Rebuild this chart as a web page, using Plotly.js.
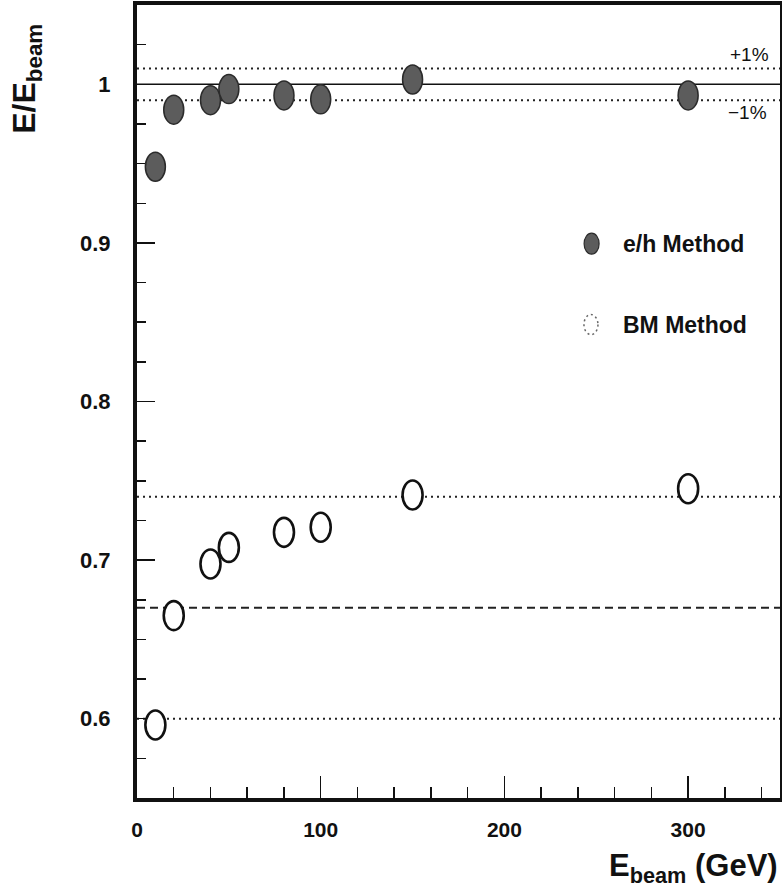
<!DOCTYPE html>
<html>
<head>
<meta charset="utf-8">
<script src="https://cdn.plot.ly/plotly-3.0.1.min.js"></script>
<style>html,body{margin:0;padding:0;background:#fff;}#chart{width:782px;height:894px;}</style>
</head>
<body>
<div id="chart"></div>
<script>
// Beam energies (GeV)
var beamEnergy = [10, 20, 40, 50, 80, 100, 150, 300];
// E/Ebeam, e/h method
var ehValues = [0.948, 0.984, 0.990, 0.997, 0.993, 0.9905, 1.003, 0.993];
// E/Ebeam, BM method
var bmValues = [0.596, 0.665, 0.6975, 0.708, 0.7175, 0.7207, 0.741, 0.745];
// Reference lines
var refSolid = [1.0];
var refDotted = [1.01, 0.99, 0.74, 0.60];
var refDashed = [0.67];
var legendNames = ['e/h Method', 'BM Method'];
var xTickVals = [0, 100, 200, 300];
var yTickVals = [0.6, 0.7, 0.8, 0.9, 1.0];
var yTickText = ['0.6', '0.7', '0.8', '0.9', '1'];

var FONT = '"Liberation Sans", Arial, Helvetica, sans-serif';

var traces = [
  {x: beamEnergy, y: ehValues, type: 'scatter', mode: 'markers', name: legendNames[0],
   marker: {size: 16, color: '#5c5c5c', line: {width: 0}}, showlegend: false},
  {x: beamEnergy, y: bmValues, type: 'scatter', mode: 'markers', name: legendNames[1],
   marker: {size: 14, color: '#ffffff', line: {width: 0}}, showlegend: false}
];

var shapes = [];
refSolid.forEach(function (v) {
  shapes.push({type: 'line', xref: 'paper', yref: 'y', x0: 0, x1: 1, y0: v, y1: v,
    line: {color: '#111', width: 1.6}, layer: 'below'});
});
refDotted.forEach(function (v) {
  shapes.push({type: 'line', xref: 'paper', yref: 'y', x0: 0, x1: 1, y0: v, y1: v,
    line: {color: '#222', width: 2, dash: '2px,4px'}, layer: 'below'});
});
refDashed.forEach(function (v) {
  shapes.push({type: 'line', xref: 'paper', yref: 'y', x0: 0, x1: 1, y0: v, y1: v,
    line: {color: '#222', width: 2, dash: '8px,5px'}, layer: 'below'});
});
function ellipse(xa, ya, xr, yr, w, h, fill, lc, lw, dash) {
  return {type: 'circle', xref: xr, yref: yr, xsizemode: 'pixel', ysizemode: 'pixel',
    xanchor: xa, yanchor: ya, x0: -w / 2, x1: w / 2, y0: -h / 2, y1: h / 2,
    fillcolor: fill, line: {color: lc, width: lw, dash: dash || 'solid'}, layer: 'above'};
}
beamEnergy.forEach(function (e, i) {
  shapes.push(ellipse(e, ehValues[i], 'x', 'y', 20, 29, '#5c5c5c', '#2b2b2b', 1.5));
});
beamEnergy.forEach(function (e, i) {
  shapes.push(ellipse(e, bmValues[i], 'x', 'y', 20, 29, '#ffffff', '#111', 2.6));
});
// legend symbols
shapes.push(ellipse(0.707, 0.699, 'paper', 'paper', 15, 21, '#5c5c5c', '#2b2b2b', 1.2));
shapes.push(ellipse(0.706, 0.597, 'paper', 'paper', 14, 20, 'rgba(255,255,255,0)', '#666', 1.5, '2px,3px'));

var annotations = [
  {text: legendNames[0], xref: 'paper', yref: 'paper', x: 0.752, y: 0.699, xanchor: 'left', yanchor: 'middle',
   showarrow: false, font: {family: FONT, size: 23, color: '#111', weight: 'bold'}},
  {text: legendNames[1], xref: 'paper', yref: 'paper', x: 0.752, y: 0.597, xanchor: 'left', yanchor: 'middle',
   showarrow: false, font: {family: FONT, size: 23, color: '#111', weight: 'bold'}},
  {text: '+1%', xref: 'paper', yref: 'paper', x: 0.953, y: 0.937, xanchor: 'center', yanchor: 'middle',
   showarrow: false, font: {family: FONT, size: 19, color: '#111'}},
  {text: '\u22121%', xref: 'paper', yref: 'paper', x: 0.950, y: 0.864, xanchor: 'center', yanchor: 'middle',
   showarrow: false, font: {family: FONT, size: 19, color: '#111'}},
  {text: 'E/E<sub>beam</sub>', xref: 'paper', yref: 'paper', x: -0.171, y: 0.907, xanchor: 'center', yanchor: 'middle',
   textangle: -90, showarrow: false, font: {family: FONT, size: 32, color: '#111', weight: 'bold'}},
  {text: 'E<sub>beam</sub> (GeV)', xref: 'paper', yref: 'paper', x: 1.0, y: -0.088, xanchor: 'right', yanchor: 'middle',
   showarrow: false, font: {family: FONT, size: 31, color: '#111', weight: 'bold'}}
];

var layout = {
  width: 782, height: 894,
  margin: {l: 137, r: 2, t: 5, b: 96, pad: 0},
  paper_bgcolor: '#fff', plot_bgcolor: '#fff',
  showlegend: false,
  xaxis: {
    range: [0, 350], tickvals: xTickVals, ticktext: xTickVals.map(String),
    ticks: 'inside', ticklen: 22, tickwidth: 1.5, tickcolor: '#111',
    minor: {dtick: 20, tick0: 0, ticks: 'inside', ticklen: 11, tickwidth: 1.5, tickcolor: '#111', showgrid: false},
    showline: true, linecolor: '#111', linewidth: 4, mirror: true,
    showgrid: false, zeroline: false, ticklabelstandoff: 10,
    tickfont: {family: FONT, size: 21, color: '#111', weight: 'bold'}
  },
  yaxis: {
    range: [0.55, 1.05], tickvals: yTickVals, ticktext: yTickText,
    ticks: 'inside', ticklen: 18, tickwidth: 1.5, tickcolor: '#111',
    minor: {dtick: 0.025, tick0: 0.55, ticks: 'inside', ticklen: 9, tickwidth: 1.5, tickcolor: '#111', showgrid: false},
    showline: true, linecolor: '#111', linewidth: 4, mirror: true,
    showgrid: false, zeroline: false, ticklabelstandoff: 18,
    tickfont: {family: FONT, size: 22, color: '#111', weight: 'bold'}
  },
  shapes: shapes,
  annotations: annotations
};

Plotly.newPlot('chart', traces, layout, {staticPlot: true, displayModeBar: false});
</script>
</body>
</html>
